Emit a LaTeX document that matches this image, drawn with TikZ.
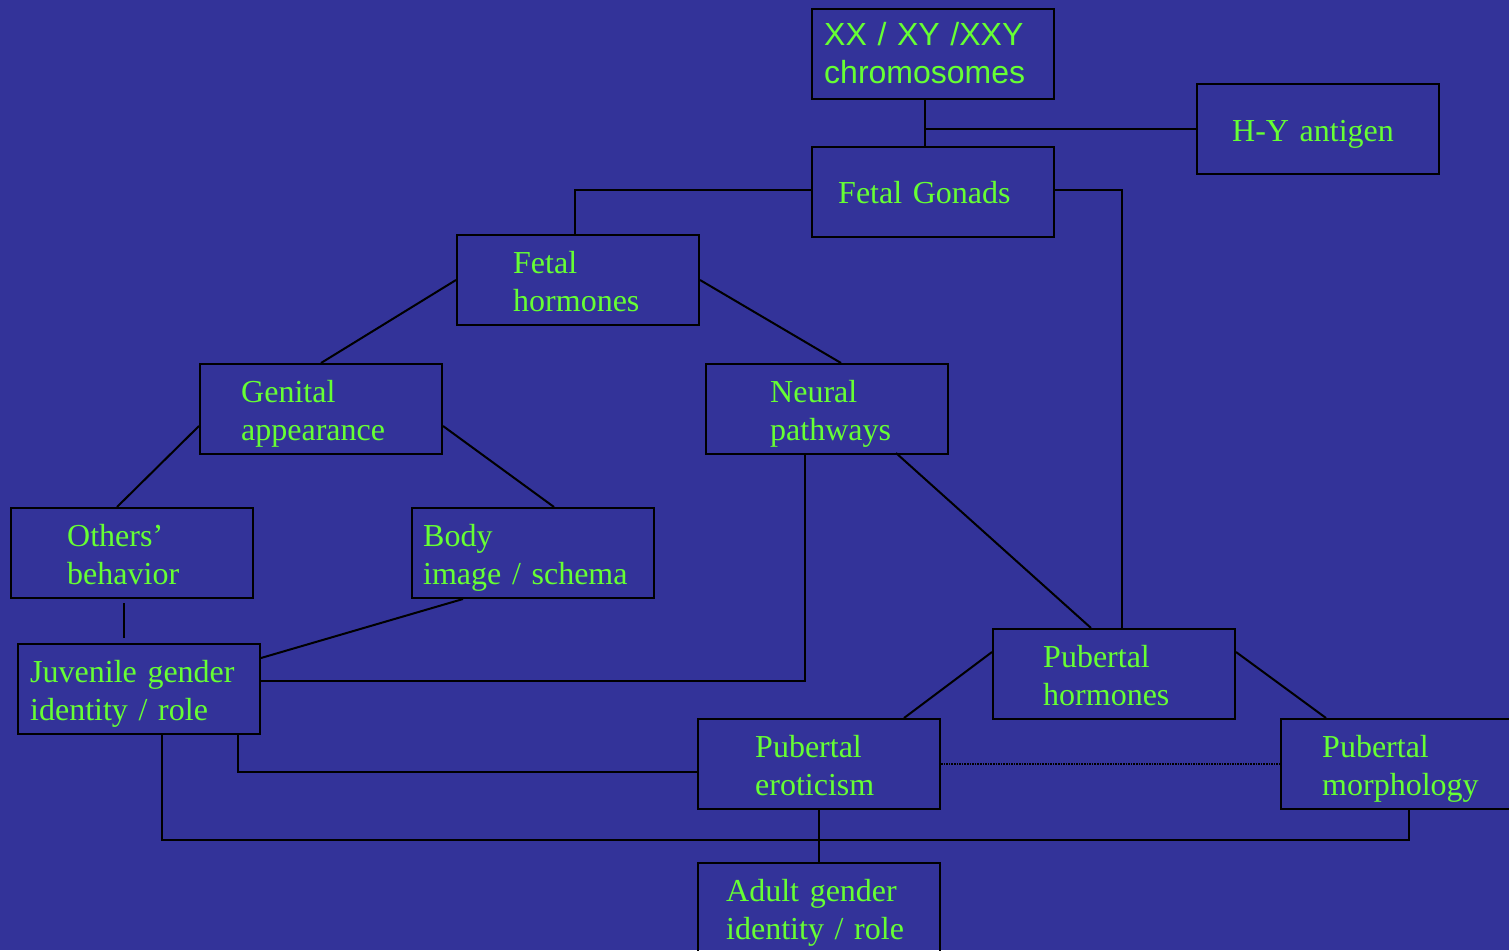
\documentclass[tikz,border=0pt]{standalone}
\usepackage{fontspec}
\setmainfont[WordSpace={0.7,0,0}]{Liberation Serif}
\newfontfamily\arialf[WordSpace={0.8,0,0}]{Liberation Sans}
\usetikzlibrary{calc}
\definecolor{bg}{HTML}{333399}
\definecolor{txt}{HTML}{66FF33}
\newcommand\serlblfont{\fontsize{32}{38}\selectfont}
\newcommand\sanslblfont{\arialf\fontsize{32}{38}\selectfont}
\begin{document}
\begin{tikzpicture}[x=1pt,y=-1pt,
  box/.style={draw=black,line width=2pt,minimum width=242pt,minimum height=90pt,anchor=north west,inner sep=0pt},
  lbl/.style={anchor=base west,inner sep=0pt,text=txt,align=left,text width=240pt,font=\serlblfont},
  link/.style={draw=black,line width=2pt},
  dotlink/.style={draw=black,line width=1.6pt,densely dotted}]
\fill[bg] (0,0) rectangle (1509,950);
\clip (0,0) rectangle (1509,950);
% boxes
\node[box] (chrom) at (811,8) {};
\node[box] (hy) at (1196,83) {};
\node[box] (gon) at (811,146) {};
\node[box] (fh) at (456,234) {};
\node[box] (gen) at (199,363) {};
\node[box] (neu) at (705,363) {};
\node[box] (oth) at (10,507) {};
\node[box] (body) at (411,507) {};
\node[box] (juv) at (17,643) {};
\node[box] (ph) at (992,628) {};
\node[box] (pe) at (697,718) {};
\node[box] (pm) at (1280,718) {};
\node[box] (adult) at (697,862) {};
% labels
\node[lbl,font=\sanslblfont] (chromT) at (824,46) {XX / XY /XXY\\chromosomes};
\node[lbl] (hyT) at (1232,141) {H-Y antigen};
\node[lbl] (gonT) at (838,203) {Fetal Gonads};
\node[lbl] (fhT) at (513,273) {Fetal\\hormones};
\node[lbl] (genT) at (241,402) {Genital\\appearance};
\node[lbl] (neuT) at (770,402) {Neural\\pathways};
\node[lbl] (othT) at (67,546) {Others’\\behavior};
\node[lbl] (bodyT) at (423,546) {Body\\image / schema};
\node[lbl] (juvT) at (30,682) {Juvenile gender\\identity / role};
\node[lbl] (phT) at (1043,667) {Pubertal\\hormones};
\node[lbl] (peT) at (755,757) {Pubertal\\eroticism};
\node[lbl] (pmT) at (1322,757) {Pubertal\\morphology};
\node[lbl] (adT) at (726,901) {Adult gender\\identity / role};
% connectors
\draw[link] ($(chrom.south)+(-8,0)$) -- ($(gon.north)+(-8,0)$);
\draw[link] (hy.west) -- ($(hy.west -| chrom.south)+(-8,0)$);
\draw[link] ($(gon.west)+(0,-2)$) -| ($(fh.north)+(-3,0)$);
\draw[link] ($(gon.east)+(0,-2)$) -| ($(ph.north)+(8,0)$);
\draw[link] (fh.west) -- (gen.north);
\draw[link] (fh.east) -- ($(neu.north)+(14,0)$);
\draw[link] ($(gen.west)+(0,17)$) -- ($(oth.north)+(-15,0)$);
\draw[link] ($(gen.east)+(0,17)$) -- ($(body.north)+(21,0)$);
\draw[link] ($(oth.south)+(-8,4)$) -- ($(oth.south |- juv.north)+(-8,-5)$);
\draw[link] ($(body.south)+(-70,0)$) -- ($(juv.east)+(0,-31)$);
\draw[link] ($(neu.south)+(-22,0)$) |- ($(juv.east)+(0,-8)$);
\draw[link] ($(neu.south)+(69,-2)$) -- ($(ph.north)+(-23,0)$);
\draw[link] ($(ph.west)+(0,-22)$) -- ($(pe.north)+(85,0)$);
\draw[link] ($(ph.east)+(0,-22)$) -- ($(pm.north)+(-76,0)$);
\draw[link] ($(pe.west)+(0,8)$) -| ($(juv.south)+(99,0)$);
\draw[dotlink] (pe.east) -- (pm.west);
\draw[link] ($(juv.south)+(23,0)$) -- ++(0,105) -| ($(pm.south)+(7,0)$);
\draw[link] (pe.south) -- (adult.north);
\end{tikzpicture}
\end{document}
